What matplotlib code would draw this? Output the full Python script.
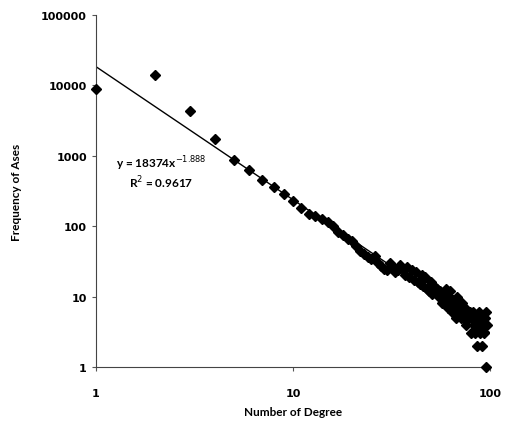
import matplotlib.pyplot as plt
from matplotlib.ticker import FixedLocator, NullLocator

plt.rcParams['font.family'] = ['Lato', 'DejaVu Sans']

# degree distribution
degree = list(range(1, 98))
freq = [8800, 14000, 4300, 1700, 880, 620, 450, 360, 290, 230,
        180, 150, 140, 125, 115, 100, 82, 76, 66, 62,
        52, 45, 40, 36, 34, 38, 30, 27, 25, 24,
        30, 27, 22, 24, 28, 25, 20, 26, 19, 24,
        17, 22, 16, 15, 20, 14, 19, 13, 12, 16,
        11, 14, 12, 13, 10, 12, 8, 11, 9, 13,
        7, 10, 12, 6, 9, 8, 5, 10, 7, 6,
        5, 8, 5, 7, 7, 4, 6, 5, 6, 3,
        5, 6, 4, 3, 5, 2, 4, 6, 3, 5,
        2, 4, 3, 5, 1, 6, 4]

# power-law trendline
coef_a = 18374
coef_b = -1.888
r2 = 0.9617
trend_x = [1, 100]
trend_y = [coef_a * x ** coef_b for x in trend_x]

fig = plt.figure(figsize=(5.13, 4.27), dpi=100)
ax = fig.add_axes([0.187, 0.138, 0.768, 0.825])

ax.plot(trend_x, trend_y, color='black', lw=1.0, zorder=2)
ax.plot(degree, freq, 'D', color='black', markersize=5.5, zorder=3, clip_on=False)

ax.set_xscale('log')
ax.set_yscale('log')
ax.set_xlim(1, 100)
ax.set_ylim(1, 100000)
ax.xaxis.set_major_locator(FixedLocator([1, 10, 100]))
ax.yaxis.set_major_locator(FixedLocator([1, 10, 100, 1000, 10000, 100000]))
ax.xaxis.set_minor_locator(NullLocator())
ax.yaxis.set_minor_locator(NullLocator())
ax.set_xticklabels(['1', '10', '100'])
ax.set_yticklabels(['1', '10', '100', '1000', '10000', '100000'])
ax.tick_params(axis='both', length=3, width=0.8, color='#555555')
ax.tick_params(axis='x', pad=12)
for lbl in ax.get_xticklabels() + ax.get_yticklabels():
    lbl.set_fontweight('bold')
    lbl.set_fontfamily('DejaVu Sans')
    lbl.set_fontsize(8)

ax.spines['top'].set_visible(False)
ax.spines['right'].set_visible(False)
ax.spines['left'].set_color('#444444')
ax.spines['bottom'].set_color('#444444')

ax.set_xlabel('Number of Degree', fontsize=8.5, fontweight='bold', labelpad=6)
ax.set_ylabel('Frequency of Ases', fontsize=8.5, fontweight='bold', labelpad=14)

ax.text(0.165, 0.58, r'y = 18374x$^{-1.888}$', transform=ax.transAxes,
        fontsize=8.5, fontweight='bold', ha='center', va='center')
ax.text(0.165, 0.527, r'R$^{2}$ = %.4f' % r2, transform=ax.transAxes,
        fontsize=8.5, fontweight='bold', ha='center', va='center')

fig.savefig('out.png', dpi=100)
